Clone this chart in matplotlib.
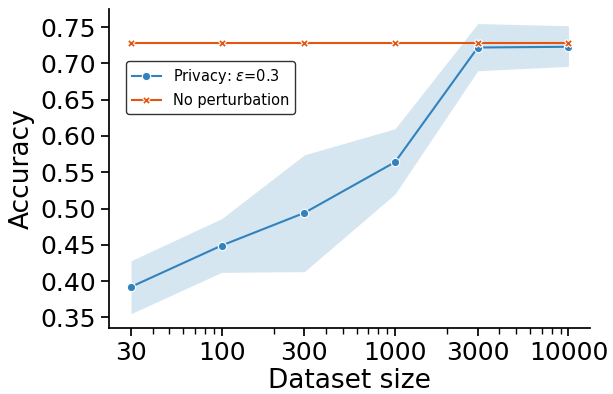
import numpy as np
import matplotlib.pyplot as plt

# dataset sizes and accuracies
sizes = [30, 100, 300, 1000, 3000, 10000]
privacy_mean = [0.392, 0.449, 0.494, 0.564, 0.722, 0.723]
privacy_low = [0.355, 0.412, 0.413, 0.520, 0.690, 0.696]
privacy_high = [0.428, 0.486, 0.574, 0.610, 0.755, 0.752]
noperturb_mean = [0.728, 0.728, 0.728, 0.728, 0.728, 0.728]
noperturb_low = [0.727, 0.727, 0.727, 0.727, 0.727, 0.727]
noperturb_high = [0.729, 0.729, 0.729, 0.729, 0.729, 0.729]
tick_labels = ['30', '100', '300', '1000', '3000', '10000']

blue = '#3182bd'
orange = '#e6550d'

fig, ax = plt.subplots(figsize=(6.13, 3.94), dpi=100)

ax.fill_between(sizes, privacy_low, privacy_high, color=blue, alpha=0.2, linewidth=0)
ax.plot(sizes, privacy_mean, color=blue, marker='o', markersize=6,
        markeredgecolor='white', markeredgewidth=0.8, linewidth=1.5,
        label=r'Privacy: $\epsilon$=0.3')
ax.fill_between(sizes, noperturb_low, noperturb_high, color=orange, alpha=0.2, linewidth=0)
ax.plot(sizes, noperturb_mean, color=orange, marker='X', markersize=6,
        markeredgecolor='white', markeredgewidth=0.8, linewidth=1.5,
        label='No perturbation')

ax.set_xscale('log')
ax.set_xticks(sizes)
ax.set_xticklabels(tick_labels)
ax.set_yticks(np.arange(0.35, 0.76, 0.05))
ax.tick_params(axis='both', labelsize=18, length=6, width=1.25)
ax.tick_params(axis='x', which='minor', length=4, width=1)
ax.set_xlabel('Dataset size', fontsize=19, labelpad=2)
ax.set_ylabel('Accuracy', fontsize=19)

for side in ['top', 'right']:
    ax.spines[side].set_visible(False)
for side in ['left', 'bottom']:
    ax.spines[side].set_linewidth(1.25)

ax.legend(loc='upper left', bbox_to_anchor=(0.02, 0.86), fontsize=10.5,
          edgecolor='#333333', fancybox=True, framealpha=1)

plt.subplots_adjust(left=0.178, right=0.963, top=0.977, bottom=0.167)
plt.savefig('out.png', dpi=100)
